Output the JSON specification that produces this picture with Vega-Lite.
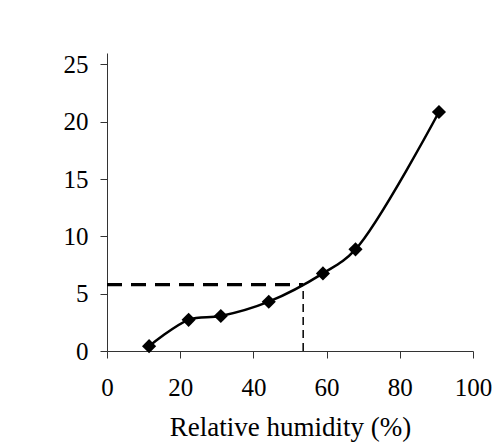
{
  "$schema": "https://vega.github.io/schema/vega-lite/v6.json",
  "width": 366,
  "height": 298,
  "autosize": {"type": "none"},
  "padding": {"left": 107, "top": 53, "right": 22, "bottom": 95},
  "background": "white",
  "config": {
    "view": {"stroke": null},
    "axis": {
      "labelFont": "Liberation Serif",
      "titleFont": "Liberation Serif",
      "labelFontSize": 25,
      "titleFontSize": 27,
      "labelColor": "black",
      "titleColor": "black",
      "titleFontWeight": "normal",
      "domainColor": "#333",
      "tickColor": "#333",
      "tickSize": 7,
      "grid": false
    }
  },
  "datasets": {
    "pts": [
      {"rh": 11.5, "v": 0.42},
      {"rh": 22.3, "v": 2.72},
      {"rh": 31.1, "v": 3.05},
      {"rh": 44.2, "v": 4.3},
      {"rh": 59.0, "v": 6.77},
      {"rh": 67.9, "v": 8.87},
      {"rh": 90.7, "v": 20.85}
    ],
    "hline": [{"x1": 0, "x2": 53.6, "y": 5.79}],
    "vline": [{"x": 53.6, "y1": 0, "y2": 5.79}]
  },
  "layer": [
    {
      "data": {"name": "hline"},
      "mark": {"type": "rule", "strokeWidth": 3.2, "strokeDash": [15, 9], "color": "black"},
      "encoding": {
        "x": {"field": "x1", "type": "quantitative", "scale": {"domain": [0, 100]}},
        "x2": {"field": "x2"},
        "y": {"field": "y", "type": "quantitative", "scale": {"domain": [0, 25]}}
      }
    },
    {
      "data": {"name": "vline"},
      "mark": {"type": "rule", "strokeWidth": 1.5, "strokeDash": [8, 5], "color": "black"},
      "encoding": {
        "x": {"field": "x", "type": "quantitative"},
        "y": {"field": "y1", "type": "quantitative"},
        "y2": {"field": "y2"}
      }
    },
    {
      "data": {"name": "pts"},
      "mark": {"type": "line", "interpolate": "catmull-rom", "strokeWidth": 2.5, "color": "black"},
      "encoding": {
        "x": {"field": "rh", "type": "quantitative", "scale": {"domain": [0, 100]},
          "axis": {"title": "Relative humidity (%)", "values": [0, 20, 40, 60, 80, 100], "labelPadding": 17, "titlePadding": 14, "labelFlush": false}},
        "y": {"field": "v", "type": "quantitative", "scale": {"domain": [0, 25]},
          "axis": {"title": null, "values": [0, 5, 10, 15, 20, 25], "labelPadding": 12}}
      }
    },
    {
      "data": {"name": "pts"},
      "mark": {"type": "point", "shape": "diamond", "filled": true, "size": 200, "color": "black", "opacity": 1},
      "encoding": {
        "x": {"field": "rh", "type": "quantitative"},
        "y": {"field": "v", "type": "quantitative"}
      }
    }
  ]
}
